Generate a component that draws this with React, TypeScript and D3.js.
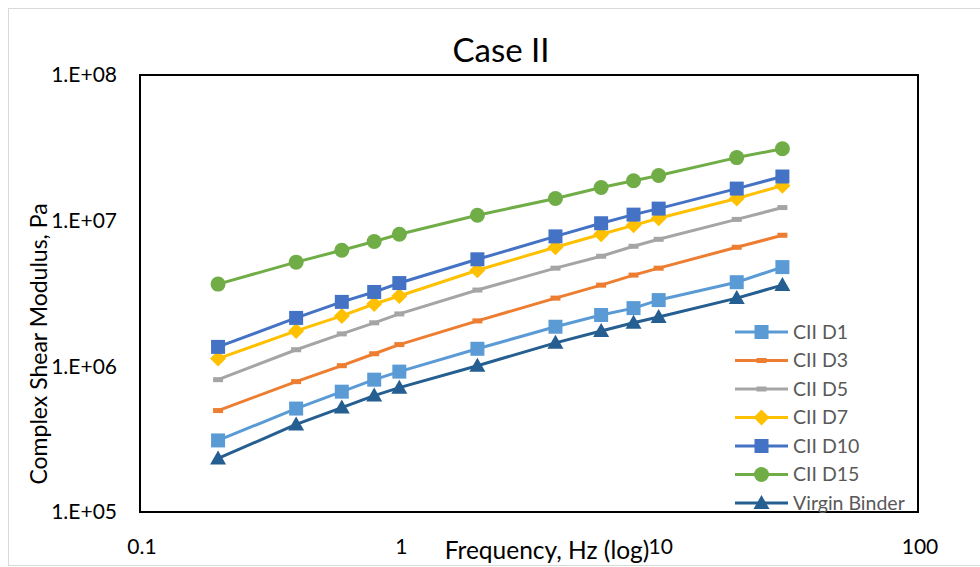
import React from 'react'
import * as d3 from 'd3'

// frequencies (Hz) shared by all series
const FREQ = [0.2, 0.4, 0.6, 0.8, 1, 2, 4, 6, 8, 10, 20, 30]

const D1 = [3.1e5, 5.13e5, 6.7e5, 8.1e5, 9.2e5, 1.32e6, 1.87e6, 2.25e6, 2.51e6, 2.85e6, 3.78e6, 4.8e6]
const D3 = [4.97e5, 7.85e5, 1.01e6, 1.22e6, 1.41e6, 2.05e6, 2.94e6, 3.61e6, 4.23e6, 4.72e6, 6.57e6, 7.94e6]
const D5 = [8.1e5, 1.3e6, 1.67e6, 1.99e6, 2.29e6, 3.34e6, 4.72e6, 5.7e6, 6.67e6, 7.45e6, 1.02e7, 1.23e7]
const D7 = [1.13e6, 1.75e6, 2.22e6, 2.68e6, 3.04e6, 4.57e6, 6.57e6, 8.06e6, 9.29e6, 1.04e7, 1.42e7, 1.74e7]
const D10 = [1.36e6, 2.15e6, 2.77e6, 3.24e6, 3.73e6, 5.43e6, 7.8e6, 9.6e6, 1.1e7, 1.21e7, 1.66e7, 2.01e7]
const D15 = [3.67e6, 5.19e6, 6.26e6, 7.2e6, 8.06e6, 1.09e7, 1.42e7, 1.69e7, 1.88e7, 2.04e7, 2.71e7, 3.12e7]
const VIRGIN = [2.33e5, 3.99e5, 5.21e5, 6.3e5, 7.14e5, 1.01e6, 1.45e6, 1.75e6, 1.99e6, 2.18e6, 2.94e6, 3.61e6]

const X_TICKS = [0.1, 1, 10, 100]
const X_TICK_LABELS = ['0.1', '1', '10', '100']
const Y_TICKS = [1e5, 1e6, 1e7, 1e8]
const Y_TICK_LABELS = ['1.E+05', '1.E+06', '1.E+07', '1.E+08']

const SERIES = [
  { name: 'CII D1', values: D1, color: '#5B9BD5', marker: 'square' },
  { name: 'CII D3', values: D3, color: '#ED7D31', marker: 'dash' },
  { name: 'CII D5', values: D5, color: '#A5A5A5', marker: 'dash' },
  { name: 'CII D7', values: D7, color: '#FFC000', marker: 'diamond' },
  { name: 'CII D10', values: D10, color: '#4472C4', marker: 'square' },
  { name: 'CII D15', values: D15, color: '#70AD47', marker: 'circle' },
  { name: 'Virgin Binder', values: VIRGIN, color: '#255E91', marker: 'triangle' },
]

const FONT = "Lato, 'Open Sans', sans-serif"
const W = 980
const H = 567
const plot = { left: 140, right: 918, top: 75, bottom: 512 }

function Marker({ type, x, y, color }) {
  if (type === 'square') return <rect x={x - 7} y={y - 7} width={14} height={14} fill={color} />
  if (type === 'dash') return <rect x={x - 5} y={y - 2.5} width={10} height={5} fill={color} />
  if (type === 'circle') return <circle cx={x} cy={y} r={7.5} fill={color} />
  if (type === 'diamond') return <path d={`M${x},${y - 8}L${x + 8},${y}L${x},${y + 8}L${x - 8},${y}Z`} fill={color} />
  if (type === 'triangle') return <path d={`M${x},${y - 8}L${x + 8},${y + 6}L${x - 8},${y + 6}Z`} fill={color} />
  return null
}

export default function App() {
  const x = d3.scaleLog().domain([0.1, 100]).range([plot.left, plot.right])
  const y = d3.scaleLog().domain([1e5, 1e8]).range([plot.bottom, plot.top])
  const line = d3.line<number>().x((d, i) => x(FREQ[i])).y(d => y(d))

  const legendX = 735
  const legendY0 = 332
  const legendStep = 28.5

  return (
    <svg width={W} height={H} style={{ position: 'absolute', left: 0, top: 0, background: '#fff' }} fontFamily={FONT}>
      <rect x={8.5} y={8.5} width={W + 10} height={557} fill="#fff" stroke="#D9D9D9" strokeWidth={1} />
      <text x={501} y={62} textAnchor="middle" fontSize={33} fill="#000">Case II</text>

      {SERIES.map(s => (
        <g key={s.name}>
          <path d={line(s.values) || ''} fill="none" stroke={s.color} strokeWidth={3} strokeLinejoin="round" />
          {s.values.map((v, i) => (
            <Marker key={i} type={s.marker} x={x(FREQ[i])} y={y(v)} color={s.color} />
          ))}
        </g>
      ))}

      <rect x={plot.left} y={plot.top} width={plot.right - plot.left} height={plot.bottom - plot.top}
        fill="none" stroke="#000" strokeWidth={2} />

      {Y_TICKS.map((t, i) => (
        <text key={t} x={117} y={y(t)} dy="0.35em" textAnchor="end" fontSize={21} fill="#000">{Y_TICK_LABELS[i]}</text>
      ))}
      {X_TICKS.map((t, i) => (
        <text key={t} x={x(t) + 2} y={554} textAnchor="middle" fontSize={21} fill="#000">{X_TICK_LABELS[i]}</text>
      ))}

      <text x={547} y={559} textAnchor="middle" fontSize={24.5} fill="#000">Frequency, Hz (log)</text>
      <text transform={`translate(47,344) rotate(-90)`} textAnchor="middle" fontSize={23} fill="#000">
        Complex Shear Modulus, Pa
      </text>

      {SERIES.map((s, i) => {
        const ly = legendY0 + i * legendStep
        return (
          <g key={s.name}>
            <line x1={legendX} x2={legendX + 53} y1={ly} y2={ly} stroke={s.color} strokeWidth={3} />
            <Marker type={s.marker} x={legendX + 26.5} y={ly} color={s.color} />
            <text x={legendX + 58} y={ly} dy="0.35em" fontSize={19.5} fill="#595959">{s.name}</text>
          </g>
        )
      })}
    </svg>
  )
}
